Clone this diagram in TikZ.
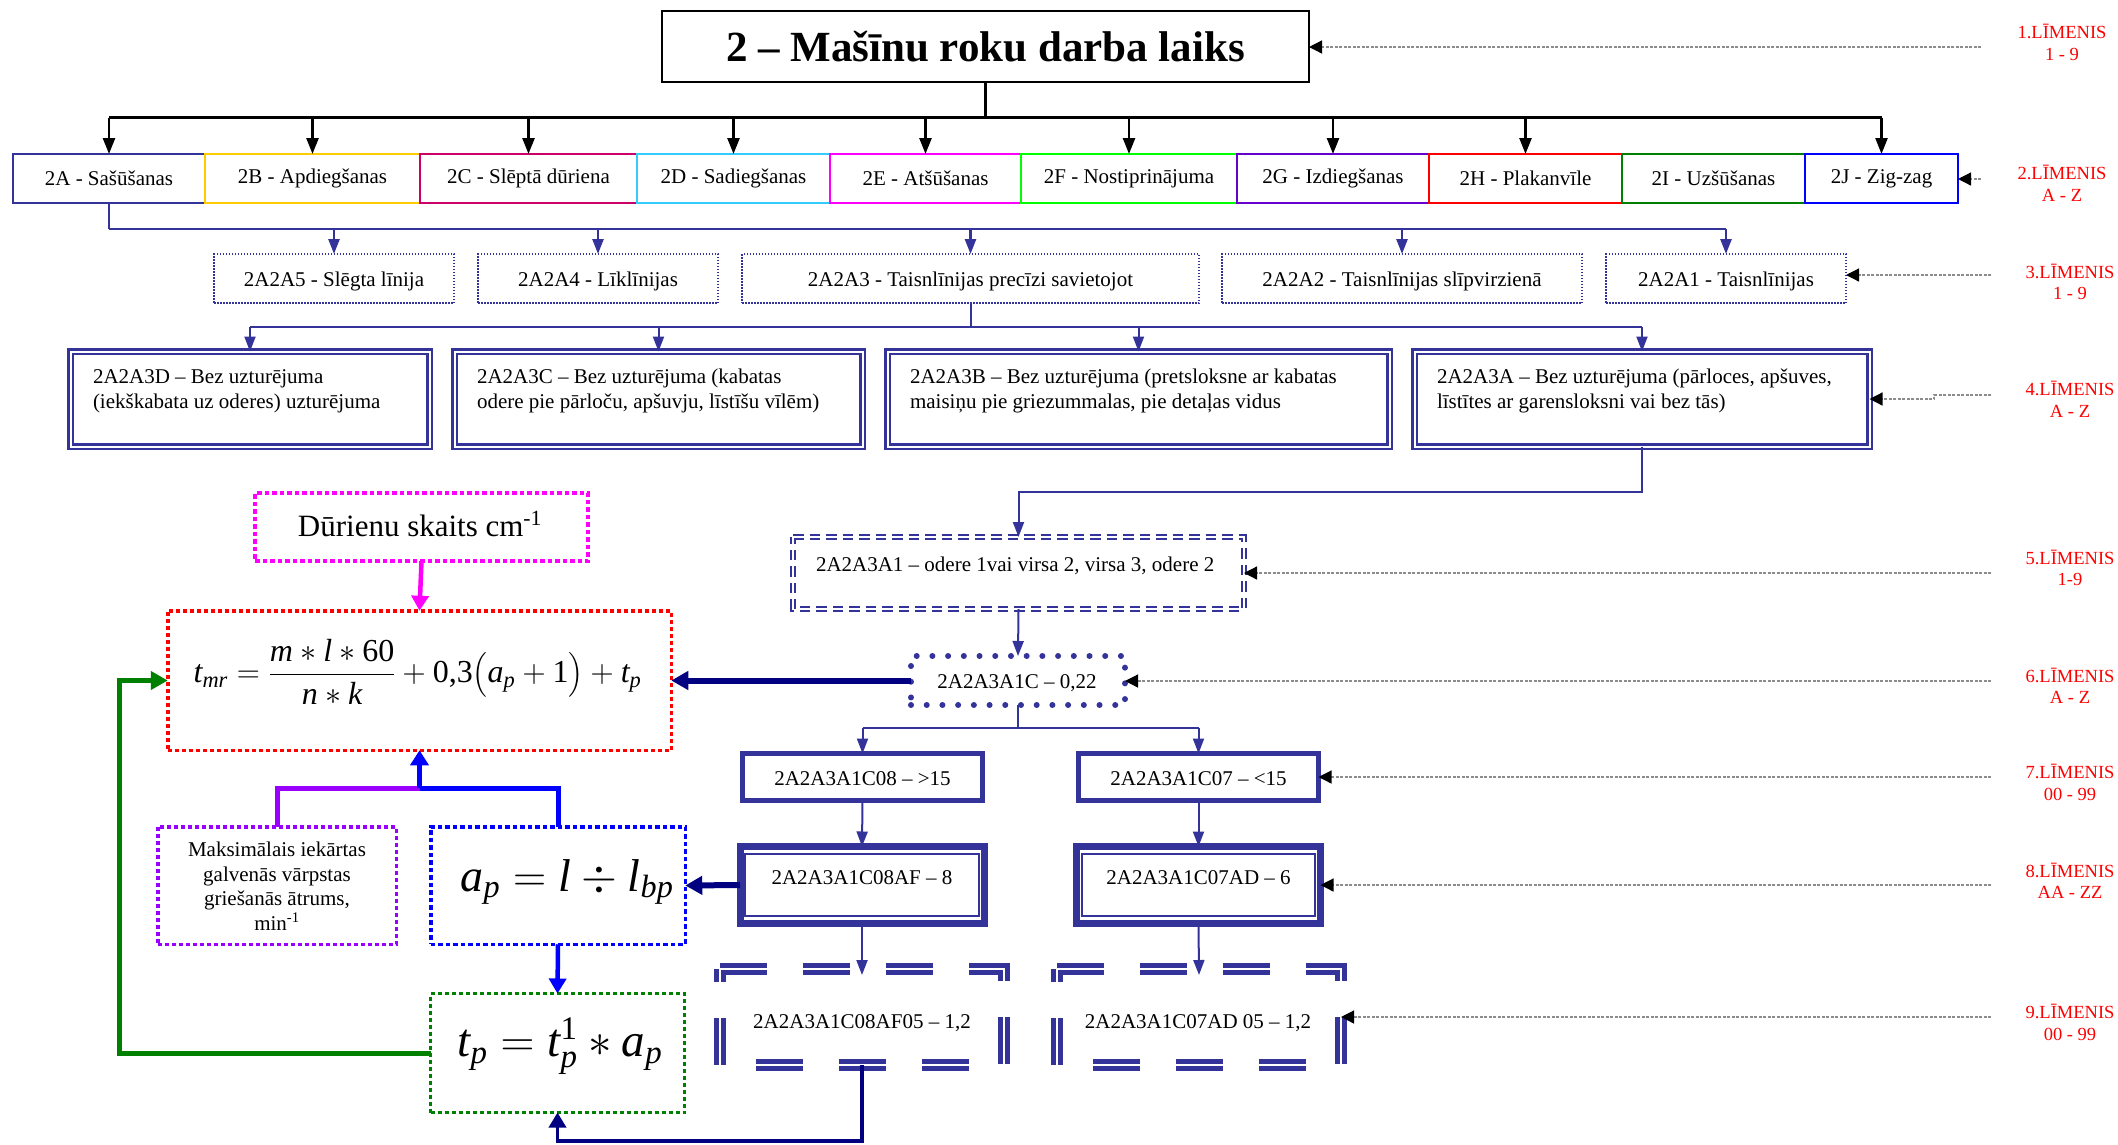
\RequirePackage{fix-cm}
\documentclass[tikz,border=0pt]{standalone}
\usepackage{amsmath}
\usepackage{fontspec}
\setmainfont{Liberation Serif}
\usetikzlibrary{arrows.meta}

\definecolor{nv}{HTML}{333399}
\definecolor{dnv}{HTML}{000080}
\definecolor{cA}{HTML}{333399}
\definecolor{cB}{HTML}{FFCC00}
\definecolor{cC}{HTML}{CC0066}
\definecolor{cD}{HTML}{33CCFF}
\definecolor{cE}{HTML}{FF00FF}
\definecolor{cF}{HTML}{00FF00}
\definecolor{cG}{HTML}{6600CC}
\definecolor{cH}{HTML}{FF0000}
\definecolor{cI}{HTML}{008000}
\definecolor{cJ}{HTML}{0000FF}
\definecolor{lvred}{HTML}{FF0000}
\definecolor{purp}{HTML}{9900FF}
\definecolor{grn}{HTML}{008000}

\begin{document}
\begin{tikzpicture}[x=1pt,y=-1pt,
  every node/.style={inner sep=0pt,outer sep=0pt},
  txt/.style={font=\fontsize{21}{25}\selectfont},
  lbl/.style={align=center,text=lvred,font=\fontsize{18.5}{21.5}\selectfont},
  blk/.style={draw=black,line width=2.5pt},
  blkarr/.style={blk,-{Triangle[length=16pt,width=12pt]}},
  nvl/.style={draw=nv,line width=2.5pt},
  nvarr/.style={nvl,-{Triangle[length=15pt,width=11pt]}},
  nvthin/.style={draw=nv,line width=2pt},
  nvthinarr/.style={nvthin,-{Triangle[length=15pt,width=11pt]}},
  lvarr/.style={draw=black!45,line width=1.3pt,dash pattern=on 3pt off 1.5pt,-{Triangle[length=13pt,width=13pt,black]}},
  l2box/.style={draw=#1,line width=2.5pt,minimum height=49pt,txt},
  l3box/.style={draw=nv,line width=1.5pt,dash pattern=on 1.5pt off 1.5pt,minimum height=49pt},
  l4box/.style={draw=nv,double=white,line width=2.5pt,double distance=2pt,minimum height=95pt},
  l4txt/.style={txt,align=left,anchor=west},
  l5line/.style={draw=nv,double=white,line width=2.2pt,double distance=1.6pt,dash pattern=on 10.5pt off 6pt},
  l6box/.style={draw=nv,line width=6pt,line cap=round,dash pattern=on 0.01pt off 15.7pt,minimum width=214pt,minimum height=49pt,txt},
  l7box/.style={draw=nv,line width=5pt,minimum width=240pt,minimum height=47pt,txt},
  l8box/.style={draw=nv,line width=7pt,minimum width=244pt,minimum height=77pt},
  l9line/.style={draw=nv,double=white,line width=5pt,double distance=1.5pt,dash pattern=on 47pt off 36pt},
  thk/.style={draw=dnv,line width=6pt,-{Triangle[length=17pt,width=18pt]}},
  mth/.style={font=\fontsize{#1}{#1}\selectfont}
]
\useasboundingbox (0,0) rectangle (2118,1144);
\fill[white] (0,0) rectangle (2118,1144);

% ---------- level 1 ----------
\node[draw,line width=2.5pt,minimum width=647pt,minimum height=71pt,
      font=\fontsize{43}{50}\selectfont\bfseries] (title) at (985.5,46.5) {2 – Mašīnu roku darba laiks};

% ---------- level 2 ----------
\node[l2box=cA,minimum width=192pt] (l2A) at (109,178.5)    {2A - Sašūšanas};
\node[l2box=cB,minimum width=215pt] (l2B) at (312.5,178.5)  {2B - Apdiegšanas};
\node[l2box=cC,minimum width=217pt] (l2C) at (528.5,178.5)  {2C - Slēptā dūriena};
\node[l2box=cD,minimum width=193pt] (l2D) at (733.5,178.5)  {2D - Sadiegšanas};
\node[l2box=cE,minimum width=191pt] (l2E) at (925.5,178.5)  {2E - Atšūšanas};
\node[l2box=cF,minimum width=216pt] (l2F) at (1129,178.5)   {2F - Nostiprinājuma};
\node[l2box=cG,minimum width=192pt] (l2G) at (1333,178.5)   {2G - Izdiegšanas};
\node[l2box=cH,minimum width=193pt] (l2H) at (1525.5,178.5) {2H - Plakanvīle};
\node[l2box=cI,minimum width=183pt] (l2I) at (1713.5,178.5) {2I - Uzšūšanas};
\node[l2box=cJ,minimum width=153pt] (l2J) at (1881.5,178.5) {2J - Zig-zag};

\draw[blk] (title.south) -- ++(0,35.5) coordinate (bus1);
\draw[blk] (bus1 -| l2A.north) -- (bus1 -| l2J.north);
\foreach \k in {A,B,C,D,E,F,G,H,J}
  \draw[blkarr] (bus1 -| l2\k.north) -- (l2\k.north);

% ---------- level 3 ----------
\node[l3box,minimum width=240pt] (l3e) at (334,278.5)   {};
\node[l3box,minimum width=240pt] (l3d) at (598,278.5)   {};
\node[l3box,minimum width=457pt] (l3c) at (970.5,278.5) {};
\node[l3box,minimum width=360pt] (l3b) at (1402,278.5)  {};
\node[l3box,minimum width=240pt] (l3a) at (1726,278.5)  {};
\node[txt] (l3et) at (334,281)   {2A2A5 - Slēgta līnija};
\node[txt] (l3dt) at (598,281)   {2A2A4 - Līklīnijas};
\node[txt] (l3ct) at (970.5,281) {2A2A3 - Taisnlīnijas precīzi savietojot};
\node[txt] (l3bt) at (1402,281)  {2A2A2 - Taisnlīnijas slīpvirzienā};
\node[txt] (l3at) at (1726,281)  {2A2A1 - Taisnlīnijas};

\draw[nvl] (l2A.south) -- ++(0,26) coordinate (bus2);
\draw[nvl] (bus2) -- (bus2 -| l3a.north);
\foreach \k in {e,d,c,b,a}
  \draw[nvarr] (bus2 -| l3\k.north) -- (l3\k.north);

% ---------- level 4 ----------
\node[l4box,minimum width=359pt] (l4D) at (250,399)    {};
\node[l4box,minimum width=408pt] (l4C) at (658.5,399)  {};
\node[l4box,minimum width=502pt] (l4B) at (1138.5,399) {};
\node[l4box,minimum width=455pt] (l4A) at (1642,399)   {};
\node[l4txt] (l4Dt) at (93,391)   {2A2A3D – Bez uzturējuma\\(iekškabata uz oderes) uzturējuma};
\node[l4txt] (l4Ct) at (477,391)  {2A2A3C – Bez uzturējuma (kabatas\\odere pie pārloču, apšuvju, līstīšu vīlēm)};
\node[l4txt] (l4Bt) at (910,391)  {2A2A3B – Bez uzturējuma (pretsloksne ar kabatas\\maisiņu pie griezummalas, pie detaļas vidus};
\node[l4txt] (l4At) at (1437,391) {2A2A3A – Bez uzturējuma (pārloces, apšuves,\\līstītes ar garensloksni vai bez tās)};

\draw[nvthin] (l3c.south) -- ++(0,24) coordinate (bus3);
\draw[nvthin] (bus3 -| l4D.north) -- (bus3 -| l4A.north);
\foreach \k in {D,C,B,A}
  \draw[nvthinarr] (bus3 -| l4\k.north) -- (l4\k.north);

% ---------- level 5 ----------
\node[minimum width=451pt,minimum height=72pt] (l5) at (1018.5,573) {};
\draw[l5line] (l5.north west) -- (l5.north east) -- (l5.south east) -- (l5.south west) -- cycle;
\node[txt,anchor=west] (l5t) at (816,566) {2A2A3A1 – odere 1vai virsa 2, virsa 3, odere 2};
\draw[nvthinarr] (l4A.south) -- ++(0,45.5) -| (l5.north);

% ---------- level 6 ----------
\node[l6box] (l6) at (1018,680.5) {};
\node[txt] (l6t) at (1017,683) {2A2A3A1C – 0,22};
\draw[nvthinarr] (l5.south) -- (l6.north);

% ---------- level 7 ----------
\node[l7box] (l7a) at (862.5,777) {};
\node[l7box] (l7b) at (1198.5,777) {};
\node[txt] (l7at) at (862.5,778.5) {2A2A3A1C08 – >15};
\node[txt] (l7bt) at (1198.5,778.5) {2A2A3A1C07 – <15};
\draw[nvthin] (l6.south) -- ++(0,23) coordinate (bus6);
\draw[nvthin] (bus6 -| l7a.north) -- (bus6 -| l7b.north);
\draw[nvthinarr] (bus6 -| l7a.north) -- (l7a.north);
\draw[nvthinarr] (bus6 -| l7b.north) -- (l7b.north);

% ---------- level 8 ----------
\node[l8box] (l8a) at (862,885) {};
\node[l8box] (l8b) at (1198.5,885) {};
\draw[nv,line width=2pt] ([shift={(5,7.5)}]l8a.north west) rectangle ([shift={(-5.5,-7.5)}]l8a.south east);
\draw[nv,line width=2pt] ([shift={(5,7.5)}]l8b.north west) rectangle ([shift={(-5.5,-7.5)}]l8b.south east);
\node[txt] (l8at) at (862,878) {2A2A3A1C08AF – 8};
\node[txt] (l8bt) at (1198.5,878) {2A2A3A1C07AD – 6};
\draw[nvthinarr] (l7a.south) -- (l8a.north);
\draw[nvthinarr] (l7b.south) -- (l8b.north);

% ---------- level 9 ----------
\node[minimum width=284pt,minimum height=96pt] (l9a) at (862,1017) {};
\node[minimum width=284pt,minimum height=96pt] (l9b) at (1199,1017) {};
\draw[l9line] (l9a.north west) -- (l9a.north east) -- (l9a.south east) -- (l9a.south west) -- cycle;
\draw[l9line] (l9b.north west) -- (l9b.north east) -- (l9b.south east) -- (l9b.south west) -- cycle;
\node[txt] (l9at) at (862,1023) {2A2A3A1C08AF05 – 1,2};
\node[txt] (l9bt) at (1198,1023) {2A2A3A1C07AD 05 – 1,2};
\draw[nvthinarr] (l8a.south) -- ([yshift=-6]l9a.north);
\draw[nvthinarr] (l8b.south) -- ([yshift=-6]l9b.north);

% ---------- formula blocks ----------
\node[draw=lvred,line width=3.5pt,dash pattern=on 4pt off 3pt,minimum width=503.5pt,minimum height=139.5pt] (fbox) at (419.5,680.5) {};
\node[mth=32] (ftxt) at (417.5,672)
  {$\displaystyle\textit{t}_{\textit{mr}}=\frac{\textit{m}*\textit{l}*\textrm{60}}{\textit{n}*\textit{k}}+\textrm{0,3}\bigl(\textit{a}_{\textit{p}}+\textrm{1}\bigr)+\textit{t}_{\textit{p}}$};

\node[draw=cE,line width=4pt,dash pattern=on 4.5pt off 3pt,minimum width=333pt,minimum height=68pt] (durbox) at (421.5,527) {};
\node[font=\fontsize{31}{36}\selectfont] (durt) at (420,524) {Dūrienu skaits cm\textsuperscript{-1}};

\node[draw=purp,line width=3.5pt,dash pattern=on 4pt off 3pt,minimum width=238.5pt,minimum height=117.5pt] (maxbox) at (277,885.5) {};
\node[align=center,font=\fontsize{21}{24.5}\selectfont] (maxt) at (277,886)
  {Maksimālais iekārtas\\galvenās vārpstas\\griešanās ātrums,\\min\textsuperscript{-1}};

\node[draw=cJ,line width=3.5pt,dash pattern=on 4.5pt off 3pt,minimum width=254.5pt,minimum height=117.5pt] (apbox) at (558,885.5) {};
\node[mth=46] (apt) at (567,882) {$\textit{a}_{\textit{p}}=\textit{l}\div\textit{l}_{\textit{bp}}$};

\node[draw=grn,line width=3pt,dash pattern=on 4pt off 3pt,minimum width=254pt,minimum height=119pt] (tpbox) at (557.5,1053) {};
\node[mth=47] (tpt) at (560,1046) {$\textit{t}_{\textit{p}}=\textit{t}_{\textit{p}}^{\textrm{1}}*\textit{a}_{\textit{p}}$};

% ---------- formula connectors ----------
\draw[thk] (l6.west) -- (fbox.east);
\draw[thk] (l8a.west) -- (apbox.east);
\draw[draw=cE,line width=4.5pt,-{Triangle[length=15pt,width=17pt]}] (durbox.south) -- (fbox.north);
\coordinate (mrg) at (419.5,788);
\draw[draw=purp,line width=5pt] (maxbox.north) |- (mrg);
\draw[draw=cJ,line width=5pt] (apbox.north) |- (mrg);
\draw[draw=cJ,line width=5pt,-{Triangle[length=15pt,width=18pt]}] (mrg) -- (fbox.south);
\draw[draw=cJ,line width=4.5pt,-{Triangle[length=15pt,width=17pt]}] (apbox.south) -- (tpbox.north);
\draw[draw=grn,line width=5pt,-{Triangle[length=17pt,width=18pt]}] (tpbox.west) -- ++(-311,0) |- (fbox.west);
\draw[draw=dnv,line width=3.5pt,-{Triangle[length=15pt,width=17pt]}] (l9a.south) -- ++(0,76) -| (tpbox.south);

% ---------- level labels ----------
\node[lbl] (lv1) at (2062,42.5)  {1.LĪMENIS\\1 - 9};
\node[lbl] (lv2) at (2062,183.5) {2.LĪMENIS\\A - Z};
\node[lbl] (lv3) at (2070,282)   {3.LĪMENIS\\1 - 9};
\node[lbl] (lv4) at (2070,399.5) {4.LĪMENIS\\A - Z};
\node[lbl] (lv5) at (2070,568)   {5.LĪMENIS\\1-9};
\node[lbl] (lv6) at (2070,686)   {6.LĪMENIS\\A - Z};
\node[lbl] (lv7) at (2070,782.5) {7.LĪMENIS\\00 - 99};
\node[lbl] (lv8) at (2070,881)   {8.LĪMENIS\\AA - ZZ};
\node[lbl] (lv9) at (2070,1022.5){9.LĪMENIS\\00 - 99};

\coordinate (s1) at (1981,47);
\coordinate (s2) at (1981,179);
\coordinate (s3) at (1991,275);
\coordinate (s4) at (1991,395);
\coordinate (s5) at (1991,573);
\coordinate (s6) at (1991,681);
\coordinate (s7) at (1991,777);
\coordinate (s8) at (1991,885);
\coordinate (s9) at (1991,1017);
\draw[lvarr] (s1) -- (s1 -| title.east);
\draw[lvarr] (s2) -- (s2 -| l2J.east);
\draw[lvarr] (s3) -- (s3 -| l3a.east);
\draw[lvarr] (s4) -- ++(-57,0) |- (l4A.east);
\draw[lvarr] (s5) -- (s5 -| l5.east);
\draw[lvarr] (s6) -- (s6 -| l6.east);
\draw[lvarr] (s7) -- (s7 -| l7b.east);
\draw[lvarr] (s8) -- (s8 -| l8b.east);
\draw[lvarr] (s9) -- (s9 -| l9b.east);
\end{tikzpicture}
\end{document}
